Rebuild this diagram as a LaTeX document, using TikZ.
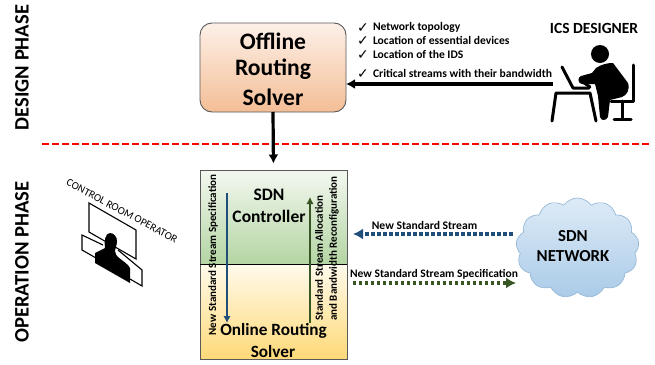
\documentclass[tikz,border=0pt]{standalone}
\usepackage{fontspec}
\setmainfont{Carlito}
\newfontfamily\dejavu{DejaVu Sans}
\usetikzlibrary{arrows.meta,shapes.symbols,shadings}
\newcommand{\fsz}[1]{\fontsize{#1}{#1}\selectfont}
\definecolor{flowblue}{HTML}{1F4E79}
\definecolor{flowgreen}{HTML}{375623}
\tikzset{
  lbl/.style={inner sep=0pt,outer sep=0pt,font=\fsz{#1}\bfseries,text=black},
  plain/.style={inner sep=0pt,outer sep=0pt,font=\fsz{#1},text=black},
  solid arrow/.style={line width=3.2pt,black,-{Latex[length=9pt,width=10pt]}},
  thin arrow/.style={line width=2.6pt,-{Latex[length=7pt,width=7.5pt]}},
  dotted arrow/.style={line width=3.4pt,dash pattern=on 3.4pt off 2.6pt,-{Latex[length=10pt,width=11pt]}},
  icon/.style={line width=3pt,black,line cap=round,line join=round},
  panel/.style={draw=black!65,line width=0.9pt,inner sep=0pt,outer sep=0pt},
  tick/.style={inner sep=0pt,outer sep=0pt,font=\dejavu\fsz{14}\bfseries},
}
\begin{document}
\begin{tikzpicture}[x=1pt,y=-1pt]
\useasboundingbox (0,0) rectangle (655,364);
% solver boxes
\node[panel,rounded corners=12pt,minimum width=146pt,minimum height=89pt,shade,top color={rgb,255:red,253;green,240;blue,232},bottom color={rgb,255:red,244;green,190;blue,150}] (offline) at (273,67.5) {};
\node[lbl=23.6] at (273,41) {Offline};
\node[lbl=23.6] at (273,69) {Routing};
\node[lbl=23.6] at (273,97) {Solver};
\node[panel,shade,top color={rgb,255:red,243;green,248;blue,240},bottom color={rgb,255:red,180;green,213;blue,163},minimum width=147pt,minimum height=94pt] (ctrl) at (273.5,217) {};
\node[panel,shade,top color={rgb,255:red,255;green,250;blue,236},bottom color={rgb,255:red,254;green,217;blue,120},minimum width=147pt,minimum height=95pt] (online) at (273.5,311.5) {};
\draw[black,line width=0.9pt] (ctrl.south west) -- (ctrl.south east);
\node[lbl=17.5] at (269,195) {SDN};
\node[lbl=17.5] at (269,216) {Controller};
\node[lbl=17.2] at (273.5,331) {Online Routing};
\node[lbl=17.2] at (273,352) {Solver};
% phases
\node[lbl=20.5,rotate=90] at (22,67.5) {DESIGN PHASE};
\node[lbl=20.6,rotate=90] at (22,262) {OPERATION PHASE};
\coordinate (redL) at (42,144); \coordinate (redR) at (651,144);
\draw[red,line width=2pt,dash pattern=on 7pt off 3pt] (redL) -- (redR);
% main arrows
\draw[solid arrow,shorten >=6.5pt] (offline.south) -- (online.north |- ctrl.north);
\coordinate (designerHand) at (553,84);
\draw[solid arrow] (designerHand) -- (offline.east |- designerHand);
% inner arrows
\coordinate (bt) at (227,193); \coordinate (bb) at (227,323);
\coordinate (gb) at (310,323); \coordinate (gt) at (310,197);
\draw[thin arrow,flowblue] (bt) -- (bb);
\draw[thin arrow,flowgreen] (gb) -- (gt);
\node[lbl=11,rotate=90] at (213,255) {New Standard Stream Specification};
\node[lbl=11,rotate=90] at (319,258) {Standard Stream Allocation};
\node[lbl=11,rotate=90] at (334,248.5) {and Bandwidth Reconfiguration};
% cloud
\node[cloud,cloud puffs=13,cloud puff arc=110,aspect=1.25,draw={rgb,255:red,150;green,185;blue,215},line width=0.7pt,shade,
      top color={rgb,255:red,222;green,235;blue,247},bottom color={rgb,255:red,170;green,203;blue,232},
      minimum width=123pt,minimum height=100pt,inner sep=0pt] (net) at (577.5,248) {};
\node[lbl=16.8] at (573,236) {SDN};
\node[lbl=16.8] at (573,256.5) {NETWORK};
\draw[dotted arrow,flowblue] (net.west |- 0,234) ++(-4,0) coordinate (ns) -- (353,234) coordinate (ne);
\coordinate (gs) at (353,283); \coordinate (ge) at (516,283);
\draw[dotted arrow,flowgreen] (gs) -- (ge);
\node[lbl=11.6] at (424.5,225) {New Standard Stream};
\node[lbl=11.5] at (434,274) {New Standard Stream Specification};
% design inputs
\foreach \yy/\tt in {27/Network topology,40.5/Location of essential devices,54/Location of the IDS,73/Critical streams with their bandwidth}{
  \node[tick] at (363,\yy+1) {✓};
  \node[lbl=11.6,anchor=west] at (373,\yy) {\tt};
}
\node[lbl=15.5] at (594,28) {ICS DESIGNER};
% designer figure
\fill[black] (600,54) circle (9);
\draw[icon] (562,67) -- (573,88) -- (589,88);
\draw[icon] (552,121) -- (556,93) -- (590,93) -- (596,121);
\draw[icon] (633,65) -- (633,101) -- (611,101);
\draw[icon] (622,101) -- (622,118) (614,119) -- (631,119);
\fill[black] (596,68) .. controls (602,64) and (608,63) .. (613,63) -- (628,83) .. controls (630,90) and (627,95) .. (622,97)
  -- (610,100) -- (608,117) .. controls (606,121) and (601,121) .. (600,117) -- (598,96) -- (595,84) -- (582,84)
  .. controls (578,84) and (577,77) .. (581,76) -- (592,73) -- cycle;
\draw[black,line width=3pt,line cap=round] (580,80) -- (590,87);
% control room operator
\node[plain=10.8,rotate=-28] at (122,211) {CONTROL ROOM OPERATOR};
\draw[black,line width=1.1pt] (89,203) -- (136,230) -- (136,259) -- (89,232) -- cycle;
\draw[black,line width=1.1pt] (103,245) -- (82,235) -- (82,250) -- (96,258);
\draw[black,line width=1.1pt] (118,250) -- (142,270) -- (142,286) -- (130,279);
\fill[black] (110,233) .. controls (114,233) and (117,237) .. (117,241) .. controls (117,246) and (115,248) .. (115,251) .. controls (115,254) and (117,256) .. (118,257)
  .. controls (124,262) and (128,264) .. (130,268) -- (130,283) -- (95,263) -- (95,253) -- (105,248) .. controls (104,242) and (105,233) .. (110,233) -- cycle;
\end{tikzpicture}
\end{document}
